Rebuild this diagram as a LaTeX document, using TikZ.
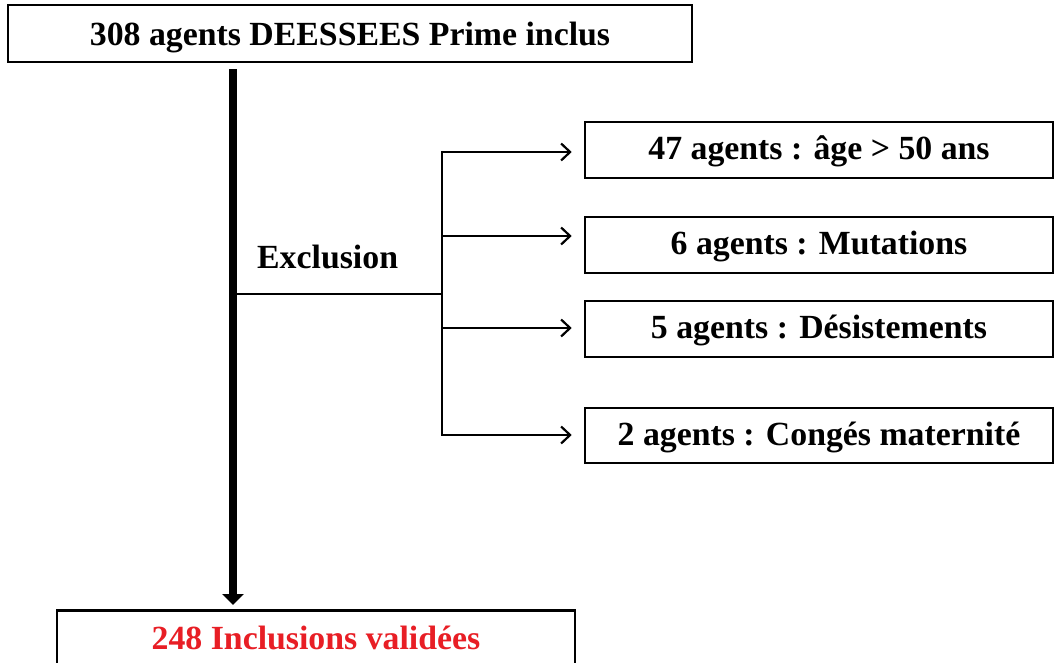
\documentclass[tikz,border=0pt]{standalone}
\usepackage{fontspec}
\setmainfont{Liberation Serif}
\usetikzlibrary{arrows.meta}
\definecolor{incred}{RGB}{232,30,37}
\begin{document}
\begin{tikzpicture}[x=1pt,y=-1pt,
  box/.style={draw, line width=2.6pt, inner sep=0pt,
    font=\fontsize{33.8}{36}\selectfont\bfseries},
  rbox/.style={box, minimum width=468pt, minimum height=56pt,
    text height=25pt, text depth=6pt},
  branch/.style={line width=2.2pt, shorten >=12pt,
    -{Straight Barb[length=9pt,width=17pt,line width=2.2pt]}},
  link/.style={line width=2.4pt},
  trunk/.style={line width=8pt, shorten <=6pt, shorten >=4pt,
    -{Triangle[width=21pt,length=11pt]}}]
\useasboundingbox (0,0) rectangle (1057,663);
\clip (0,0) rectangle (1057,663);
\fill[white] (0,0) rectangle (1057,663);

\node[box, minimum width=684pt, minimum height=57pt, text height=31pt,
  text depth=6pt] (top) at (350,33.5) {308 agents DEESSEES Prime inclus};
\node[box, anchor=north, minimum width=518pt, text height=39pt, text depth=40pt,
  text=incred] (bot) at (316,609) {248 Inclusions validées};

\node[rbox] (b1) at (819,150) {47 agents : âge > 50 ans};
\node[rbox] (b2) at (819,245) {6 agents : Mutations};
\node[rbox] (b3) at (819,329) {5 agents : Désistements};
\node[rbox, minimum height=55pt] (b4) at (819,435.5) {2 agents : Congés maternité};

\node[anchor=base west, inner sep=0pt, font=\fontsize{33.8}{36}\selectfont\bfseries]
  (exl) at (257,268) {Exclusion};

\coordinate (tr) at (233,0);
\coordinate (ex) at (233,294);
\coordinate (j1) at (442,152);
\coordinate (j2) at (442,236);
\coordinate (j3) at (442,328);
\coordinate (j4) at (442,435);

\draw[trunk] (top.south -| tr) -- (bot.north -| tr);
\draw[link] (ex) -- (ex -| j1);
\draw[link] ([yshift=1.2pt]j1) -- ([yshift=-1.2pt]j4);
\draw[branch] (j1) -- (j1 -| b1.west);
\draw[branch] (j2) -- (j2 -| b2.west);
\draw[branch] (j3) -- (j3 -| b3.west);
\draw[branch] (j4) -- (j4 -| b4.west);
\end{tikzpicture}
\end{document}
